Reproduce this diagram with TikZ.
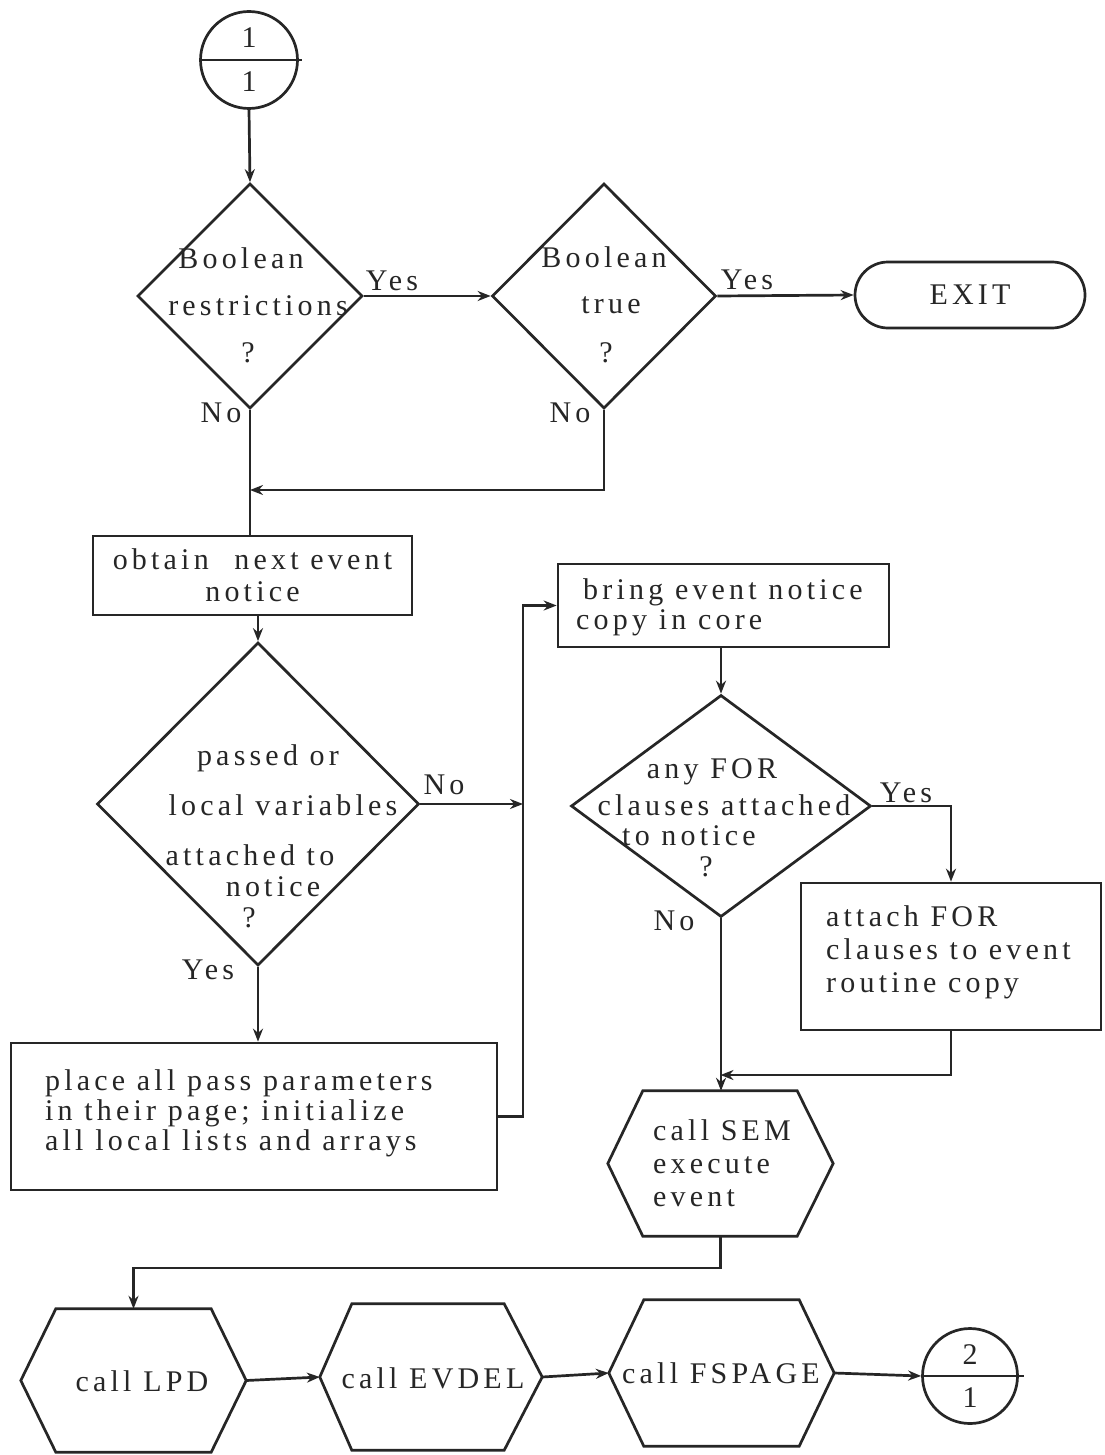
\documentclass[tikz,border=0pt]{standalone}
\usepackage{fontspec}
\usetikzlibrary{shapes.geometric,arrows.meta,calc}
\newfontfamily\tf[LetterSpace=14]{Liberation Serif}
\definecolor{ink}{gray}{0.15}
\newcommand\hexa[3]{\draw[ln] (#1.west) -- ([xshift=#2]#1.north west) -- ([xshift=-#3]#1.north east) -- (#1.east) -- ([xshift=-#3]#1.south east) -- ([xshift=#2]#1.south west) -- cycle;}
\begin{document}
\begin{tikzpicture}[x=1pt,y=-1pt,
  every node/.style={font=\tf\fontsize{30pt}{32pt}\selectfont, text=ink, inner sep=0pt},
  ln/.style={line width=2.7pt, draw=ink},
  arr/.style={ln,-{Stealth[length=13pt,width=10pt]}},
  dia/.style={diamond, ln},
  boxs/.style={rectangle, ln},
  hexn/.style={rectangle}]
\useasboundingbox (0,0) rectangle (1104,1455);
\fill[white] (0,0) rectangle (1104,1455);

% connector 1
\node[circle, ln, minimum size=97pt] (c1) at (249,60) {};
\draw[ln] (c1.west) -- ($(c1.east)+(3,0)$);
\node (c1a) at (249,38) {1};
\node (c1b) at (249,82) {1};

% diamond 1
\node[dia, minimum width=225pt, minimum height=225pt] (d1) at (250,296) {};
\node (d1a) at (241,258) {Boolean};
\node (d1b) at (258,306) {restrictions};
\node (d1c) at (248,353) {?};
\node (d1y) at (392,281) {Yes};
\node (d1n) at (221,413) {No};

% diamond 2
\node[dia, minimum width=224pt, minimum height=225pt] (d2) at (604,296) {};
\node (d2a) at (604,257) {Boolean};
\node (d2b) at (611,305) {true};
\node (d2c) at (606,353) {?};
\node (d2y) at (747,280) {Yes};
\node (d2n) at (570,413) {No};

% exit
\node[rectangle, rounded corners=33pt, ln, minimum width=230pt, minimum height=66pt] (exit) at (970,295) {EXIT};

% obtain
\node[boxs, minimum width=319pt, minimum height=79pt, align=center] (ob) at (252.5,575.5) {obtain\hspace{14pt} next event\\notice};

% diamond 3
\node[dia, minimum width=322pt, minimum height=323pt] (d3) at (258,804) {};
\node (d3a) at (268,758) {passed or};
\node (d3b) at (283,805) {local variables};
\node (d3c) at (250,855) {attached to};
\node (d3d) at (273,887) {notice};
\node (d3e) at (249,918) {?};
\node (d3n) at (444,785) {No};
\node (d3y) at (208,970) {Yes};

% place
\node[boxs, minimum width=486pt, minimum height=147pt] (pl) at (254,1116.5) {};
\node[anchor=west, align=left, font=\tf\fontsize{30pt}{30pt}\selectfont] (plt) at (45,1113) {place all pass parameters\\in their page; initialize\\all local lists and arrays};

% bring
\node[boxs, minimum width=331pt, minimum height=83pt] (br) at (723.5,605.5) {};
\node[anchor=west, align=left, font=\tf\fontsize{30pt}{30pt}\selectfont] (brt) at (576,607) {\hspace*{7pt}bring event notice\\copy in core};

% diamond 4
\node[dia, minimum width=300pt, minimum height=222pt] (d4) at (721,806) {};
\node (d4a) at (712,772) {any FOR};
\node (d4b) at (724,805) {clauses attached};
\node (d4c) at (689,836) {to notice};
\node (d4d) at (706,867) {?};
\node (d4y) at (906,793) {Yes};
\node (d4n) at (674,921) {No};

% attach
\node[boxs, minimum width=300pt, minimum height=147pt] (at) at (951,956.5) {};
\node[anchor=west, align=left, font=\tf\fontsize{30pt}{33pt}\selectfont] (att) at (826,952) {attach FOR\\clauses to event\\routine copy};

% SEM hexagon
\node[hexn, minimum width=225pt, minimum height=145pt] (sem) at (720.5,1163.5) {};
\hexa{sem}{35pt}{36pt}
\node[anchor=west, align=left, font=\tf\fontsize{30pt}{33pt}\selectfont] (semt) at (653,1163) {call SEM\\execute\\event};

% bottom row
\node[hexn, minimum width=225pt, minimum height=143pt] (lpd) at (133.5,1380.5) {};
\hexa{lpd}{35pt}{35pt}
\node (lpdt) at (142,1381) {call LPD};
\node[hexn, minimum width=222pt, minimum height=146pt] (ev) at (431,1377) {};
\hexa{ev}{32pt}{38pt}
\node (evt) at (433,1378) {call EVDEL};
\node[hexn, minimum width=225pt, minimum height=146pt] (fs) at (721.5,1373) {};
\hexa{fs}{35pt}{35pt}
\node (fst) at (721,1373) {call FSPAGE};

\node[circle, ln, minimum size=95pt] (c2) at (970,1376) {};
\draw[ln] (c2.west) -- ($(c2.east)+(5,0)$);
\node (c2a) at (970,1355) {2};
\node (c2b) at (970,1398) {1};

% junction coordinates
\coordinate (m1) at (250,490);
\coordinate (j1) at (523,804);
\coordinate (j2) at (j1 |- br.west);
\coordinate (j3) at (720.5,1075);
\coordinate (j4) at (133.5,1268);

% connectors
\draw[arr] (c1.south) -- (d1.north);
\draw[arr] (d1.east) -- (d2.west);
\draw[arr] (d2.east) -- (exit.west);
\draw[ln] (d1.south) -- (d1.south |- ob.north);
\draw[arr] (d2.south) |- (m1);
\draw[arr] (d3.north |- ob.south) -- (d3.north);
\draw[arr] (d3.east) -- (j1);
\draw[arr] (d3.south) -- (d3.south |- pl.north);
\draw[arr] (pl.east) -| (j2) -- (br.west);
\draw[arr] (d4.north |- br.south) -- (d4.north);
\draw[arr] (d4.east) -| (at.north);
\draw[arr] (d4.south) -- (d4.south |- sem.north);
\draw[arr] (at.south) |- (j3);
\draw[arr] (sem.south) |- (j4) -- (lpd.north);
\draw[arr] (lpd.east) -- (ev.west);
\draw[arr] (ev.east) -- (fs.west);
\draw[arr] (fs.east) -- (c2.west);
\end{tikzpicture}
\end{document}
